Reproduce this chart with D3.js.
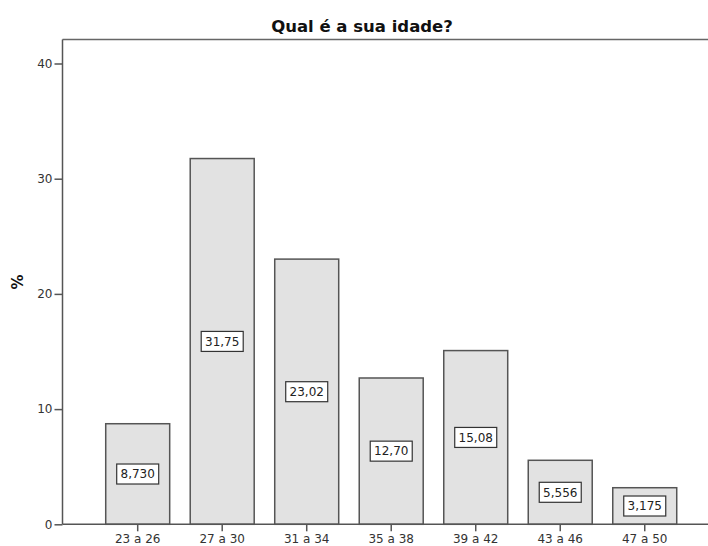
<!DOCTYPE html>
<html>
<head>
<meta charset="utf-8">
<script src="https://cdn.jsdelivr.net/npm/d3@7"></script>
<style>
	body { margin: 0; background: #fff; }
	text { font-family: 'DejaVu Sans', sans-serif; }
</style>
</head>
<body>
<script>
// data
var categories = ['23 a 26', '27 a 30', '31 a 34', '35 a 38', '39 a 42', '43 a 46', '47 a 50'];
var percents = [8.730, 31.75, 23.02, 12.70, 15.08, 5.556, 3.175];
var valueLabels = ['8,730', '31,75', '23,02', '12,70', '15,08', '5,556', '3,175'];
var yTicks = [0, 10, 20, 30, 40];

var dataset = categories.map(function (c, i) {
	return { cat: c, value: percents[i], label: valueLabels[i] };
});

// chart
var width = 708, height = 546;
var plot = { left: 62.5, right: 708, top: 39.5, bottom: 524.3 };

var svg = d3.select('body')
	.append('svg')
	.attr('width', width)
	.attr('height', height);

var x = d3.scaleBand()
	.domain(categories)
	.range([95.45, 687])
	.paddingInner(0.243)
	.paddingOuter(0.1215);

var y = d3.scaleLinear()
	.domain([0, 40])
	.range([plot.bottom, 63.5]);

// frame top
svg.append('line')
	.attr('x1', plot.left).attr('x2', plot.right)
	.attr('y1', plot.top).attr('y2', plot.top)
	.attr('stroke', '#666').attr('stroke-width', 1.5);

// bars
svg.selectAll('.bar')
	.data(dataset)
	.enter().append('rect')
	.attr('class', 'bar')
	.attr('x', function (d) { return x(d.cat); })
	.attr('y', function (d) { return y(d.value); })
	.attr('width', x.bandwidth())
	.attr('height', function (d) { return y(0) - y(d.value); })
	.attr('fill', '#e2e2e2')
	.attr('stroke', '#555')
	.attr('stroke-width', 1.5);

// value labels in boxes
var lbl = svg.selectAll('.lbl')
	.data(dataset)
	.enter().append('g')
	.attr('class', 'lbl')
	.attr('transform', function (d) {
		return 'translate(' + (x(d.cat) + x.bandwidth() / 2) + ',' + ((y(d.value) + y(0)) / 2) + ')';
	});

lbl.append('rect')
	.attr('x', -21).attr('y', -10)
	.attr('width', 42).attr('height', 20)
	.attr('fill', '#fff')
	.attr('stroke', '#333')
	.attr('stroke-width', 1.2);

lbl.append('text')
	.attr('text-anchor', 'middle')
	.attr('dy', '0.36em')
	.attr('font-size', 12)
	.attr('fill', '#222')
	.text(function (d) { return d.label; });

// axes
var x_axis = d3.axisBottom(x).tickSize(7).tickPadding(3);
var y_axis = d3.axisLeft(y).tickValues(yTicks).tickSize(8).tickPadding(2);

var gx = svg.append('g')
	.attr('class', 'x axis')
	.attr('transform', 'translate(0,' + plot.bottom + ')')
	.call(x_axis);
gx.select('.domain').attr('d', 'M' + plot.left + ',0H' + plot.right);

var gy = svg.append('g')
	.attr('class', 'y axis')
	.attr('transform', 'translate(' + plot.left + ',0)')
	.call(y_axis);
gy.select('.domain').attr('d', 'M0,' + plot.top + 'V' + plot.bottom);

svg.selectAll('.axis .domain').attr('stroke', '#555').attr('stroke-width', 1.5);
svg.selectAll('.axis .tick line').attr('stroke', '#555').attr('stroke-width', 1.5);
svg.selectAll('.axis text')
	.attr('font-family', "'DejaVu Sans', sans-serif")
	.attr('font-size', 12)
	.attr('fill', '#333');

// title
svg.append('text')
	.attr('x', 362)
	.attr('y', 32)
	.attr('text-anchor', 'middle')
	.attr('font-size', 16.5)
	.attr('font-weight', 'bold')
	.attr('fill', '#111')
	.text('Qual é a sua idade?');

// y label
svg.append('text')
	.attr('transform', 'translate(23,282) rotate(-90)')
	.attr('text-anchor', 'middle')
	.attr('font-size', 15)
	.attr('font-weight', 'bold')
	.attr('fill', '#111')
	.text('%');
</script>
</body>
</html>
